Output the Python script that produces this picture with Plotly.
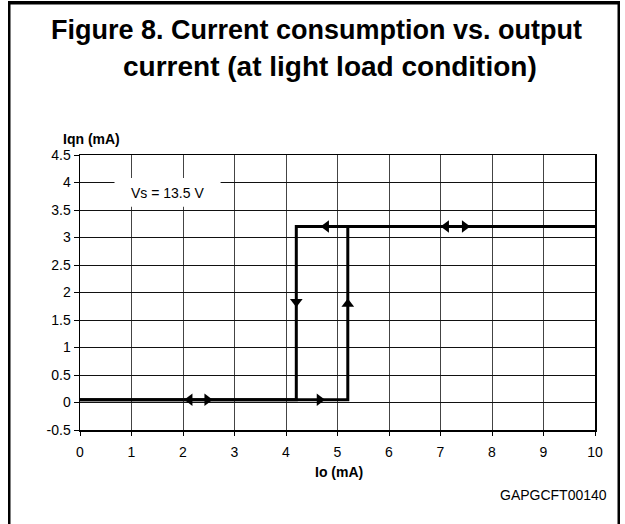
import plotly.graph_objects as go

# ---- data ----
# rising path (increasing Io)
rise_io = [0, 5.2, 5.2, 10]
rise_iqn = [0.05, 0.05, 3.2, 3.2]
# falling path (decreasing Io)
fall_io = [10, 4.2, 4.2, 0]
fall_iqn = [3.2, 3.2, 0.05, 0.05]
# direction arrows on the curve
arrow_io = [2.13, 2.47, 4.65, 5.2, 4.78, 4.2, 7.11, 7.47]
arrow_iqn = [0.05, 0.05, 0.05, 1.79, 3.2, 1.83, 3.2, 3.2]
arrow_sym = ["triangle-left", "triangle-right", "triangle-right", "triangle-up",
             "triangle-left", "triangle-down", "triangle-left", "triangle-right"]

x_ticks = [0, 1, 2, 3, 4, 5, 6, 7, 8, 9, 10]
y_ticks = [-0.5, 0, 0.5, 1, 1.5, 2, 2.5, 3, 3.5, 4, 4.5]
y_labels = ["-0.5", "0", "0.5", "1", "1.5", "2", "2.5", "3", "3.5", "4", "4.5"]

FONT = "Liberation Sans, Arial, sans-serif"

fig = go.Figure()
fig.add_trace(go.Scatter(x=rise_io, y=rise_iqn, mode="lines",
                         line=dict(color="black", width=3), hoverinfo="skip"))
fig.add_trace(go.Scatter(x=fall_io, y=fall_iqn, mode="lines",
                         line=dict(color="black", width=3), hoverinfo="skip"))
fig.add_trace(go.Scatter(x=arrow_io, y=arrow_iqn, mode="markers",
                         marker=dict(symbol=arrow_sym, size=11, color="black",
                                     line=dict(width=0)),
                         hoverinfo="skip"))

W, H = 625, 524
L, R, T, B = 80, 30, 155, 94
pw, ph = W - L - R, H - T - B


def px(xp):
    return (xp - L) / pw


def py(yp):
    return (H - B - yp) / ph


fig.update_layout(
    width=W, height=H,
    margin=dict(l=L, r=R, t=T, b=B),
    paper_bgcolor="white", plot_bgcolor="white",
    showlegend=False,
    font=dict(family=FONT, size=13, color="black"),
    xaxis=dict(range=[0, 10], tickvals=x_ticks, ticktext=[str(v) for v in x_ticks],
               showgrid=True, gridcolor="#444", gridwidth=1,
               zeroline=False, showline=True, linecolor="black", linewidth=1.5,
               mirror=True, ticks="outside", ticklen=4, tickcolor="black",
               ticklabelstandoff=5, tickfont=dict(size=14, family=FONT)),
    yaxis=dict(range=[-0.5, 4.5], tickvals=y_ticks, ticktext=y_labels,
               showgrid=True, gridcolor="#111", gridwidth=1,
               zeroline=False, showline=True, linecolor="black", linewidth=1.5,
               mirror=True, ticks="outside", ticklen=5, tickcolor="black",
               tickfont=dict(size=14, family=FONT)),
    shapes=[
        dict(type="rect", xref="x", yref="y", x0=0.67, x1=2.73, y0=3.56, y1=4.08,
             fillcolor="white", line=dict(width=0), layer="above"),
        # outer frame: left, right, top
        dict(type="rect", xref="paper", yref="paper",
             x0=px(8), x1=px(10.5), y0=py(1), y1=py(530),
             fillcolor="black", line=dict(width=0), layer="above"),
        dict(type="rect", xref="paper", yref="paper",
             x0=px(617.5), x1=px(620), y0=py(1), y1=py(530),
             fillcolor="black", line=dict(width=0), layer="above"),
        dict(type="rect", xref="paper", yref="paper",
             x0=px(8), x1=px(620), y0=py(1), y1=py(4.5),
             fillcolor="black", line=dict(width=0), layer="above"),
    ],
    annotations=[
        dict(text="<b>Figure 8. Current consumption vs. output</b>",
             xref="paper", yref="paper", x=px(316), y=py(30),
             xanchor="center", yanchor="middle", showarrow=False,
             font=dict(size=27, family=FONT)),
        dict(text="<b>current (at light load condition)</b>",
             xref="paper", yref="paper", x=px(330), y=py(67),
             xanchor="center", yanchor="middle", showarrow=False,
             font=dict(size=28, family=FONT)),
        dict(text="<b>Iqn (mA)</b>", xref="paper", yref="paper",
             x=px(91), y=py(139), xanchor="center", yanchor="middle",
             showarrow=False, font=dict(size=14, family=FONT)),
        dict(text="<b>Io (mA)</b>", xref="paper", yref="paper",
             x=px(339), y=py(472), xanchor="center", yanchor="middle",
             showarrow=False, font=dict(size=14, family=FONT)),
        dict(text="GAPGCFT00140", xref="paper", yref="paper",
             x=px(609), y=py(495), xanchor="right", yanchor="middle",
             showarrow=False, font=dict(size=14, family=FONT)),
        dict(text="Vs = 13.5 V", xref="x", yref="y", x=1.7, y=3.81,
             xanchor="center", yanchor="middle", showarrow=False,
             font=dict(size=14, family=FONT)),
    ],
)

fig.write_html("out.html",
               config={"displayModeBar": False, "staticPlot": True},
               post_script="document.body.style.margin='0';document.body.style.overflow='hidden';")
